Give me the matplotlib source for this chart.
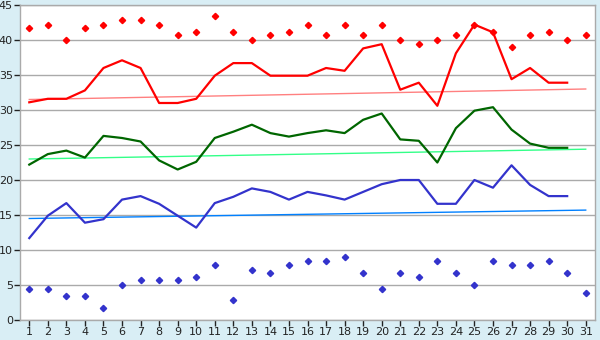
import matplotlib
matplotlib.use('Agg')
import matplotlib.pyplot as plt

# daily values, days 1..31
days = list(range(1, 32))
max_temp = [41.7, 42.2, 40.0, 41.7, 42.2, 42.8, 42.8, 42.2, 40.7, 41.1,
            43.4, 41.1, 40.0, 40.7, 41.1, 42.2, 40.7, 42.2, 40.7, 42.2,
            40.0, 39.4, 40.0, 40.7, 42.2, 41.1, 39.0, 40.7, 41.1, 40.0, 40.7]
min_temp = [4.4, 4.4, 3.4, 3.4, 1.7, 5.0, 5.7, 5.7, 5.7, 6.1,
            7.8, 2.8, 7.2, 6.7, 7.8, 8.4, 8.4, 9.0, 6.7, 4.4,
            6.7, 6.1, 8.4, 6.7, 5.0, 8.4, 7.8, 7.8, 8.4, 6.7, 3.9]
# averaged series, days 1..30
line_days = list(range(1, 31))
avg_max = [31.1, 31.6, 31.6, 32.8, 36.0, 37.1, 36.0, 31.0, 31.0, 31.6,
           34.9, 36.7, 36.7, 34.9, 34.9, 34.9, 36.0, 35.6, 38.8, 39.4,
           32.9, 33.9, 30.6, 38.1, 42.2, 41.1, 34.4, 36.0, 33.9, 33.9]
avg_mean = [22.2, 23.7, 24.2, 23.2, 26.3, 26.0, 25.5, 22.8, 21.5, 22.6,
            26.0, 26.9, 27.9, 26.7, 26.2, 26.7, 27.1, 26.7, 28.6, 29.5,
            25.8, 25.6, 22.5, 27.4, 29.9, 30.4, 27.2, 25.2, 24.6, 24.6]
avg_min = [11.7, 14.9, 16.7, 13.9, 14.4, 17.2, 17.7, 16.6, 14.9, 13.2,
           16.7, 17.6, 18.8, 18.3, 17.2, 18.3, 17.8, 17.2, 18.3, 19.4,
           20.0, 20.0, 16.6, 16.6, 20.0, 18.9, 22.1, 19.3, 17.7, 17.7]

# trend lines (start/end value, day 1 -> day 31)
trend_days = [1, 31]
trend_max = [31.5, 33.0]
trend_mean = [23.0, 24.4]
trend_min = [14.5, 15.7]

BG = '#d9eef5'
GRID = '#aaaaaa'

fig = plt.figure(figsize=(6, 3.4), dpi=100, facecolor=BG)
ax = fig.add_axes([20/600, 20/340, 575/600, 315/340])
ax.set_facecolor('white')

ax.yaxis.grid(True, color=GRID, linewidth=1)
ax.set_axisbelow(True)

ax.plot(trend_days, trend_max, color='#ff8080', linewidth=1)
ax.plot(trend_days, trend_mean, color='#33ff88', linewidth=1)
ax.plot(trend_days, trend_min, color='#0080ff', linewidth=1)

ax.plot(line_days, avg_max, color='#ff0000', linewidth=1.6)
ax.plot(line_days, avg_mean, color='#006600', linewidth=1.6)
ax.plot(line_days, avg_min, color='#3333cc', linewidth=1.6)

ax.plot(days, max_temp, linestyle='none', marker='D', markersize=3.2,
        color='#ff0000')
ax.plot(days, min_temp, linestyle='none', marker='D', markersize=3.2,
        color='#3333cc')

ax.set_xlim(0.5, 31.5)
ax.set_ylim(0, 45)
ax.set_xticks(days)
ax.set_yticks(range(0, 46, 5))
ax.tick_params(axis='both', labelsize=8, colors='#222222', length=4,
               width=1, pad=1)

for s in ax.spines.values():
    s.set_color(GRID)
    s.set_linewidth(1)

fig.savefig('out.png', dpi=100, facecolor=BG)
